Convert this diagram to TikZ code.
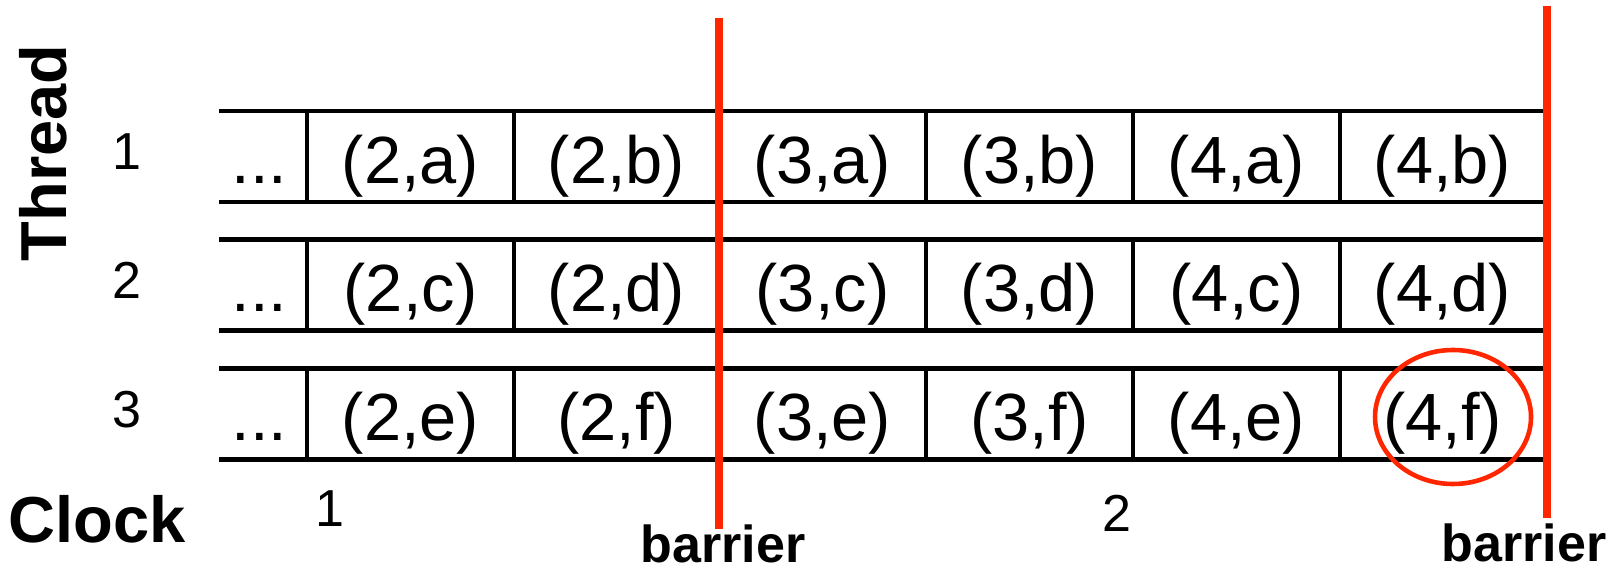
\documentclass[tikz,border=0pt]{standalone}
\usepackage{fontspec}
\usepackage{xcolor}
\setmainfont{Liberation Sans}
\definecolor{barrierred}{RGB}{255,38,0}

\begin{document}
\begin{tikzpicture}[
    every path/.style={line width=1.4pt},
    cell/.style={anchor=base, font=\fontsize{19}{21}\selectfont},
    num/.style={anchor=base, font=\fontsize{14.8}{16}\selectfont},
    title/.style={font=\fontsize{18.5}{20}\selectfont\bfseries},
    barrierline/.style={draw=barrierred, line width=2.3pt},
    ]
    \useasboundingbox (0,0) rectangle (16.23,5.69);

    % thread 1
    \draw (2.19,4.58) -- (15.45,4.58) (2.19,3.67) -- (15.45,3.67);
    \draw (3.07,4.58) -- (3.07,3.67) (5.14,4.58) -- (5.14,3.67) (7.19,4.58) -- (7.19,3.67)
          (9.26,4.58) -- (9.26,3.67) (11.33,4.58) -- (11.33,3.67) (13.40,4.58) -- (13.40,3.67);
    % thread 2
    \draw (2.19,3.293) -- (15.45,3.293) (2.19,2.383) -- (15.45,2.383);
    \draw (3.07,3.293) -- (3.07,2.383) (5.14,3.293) -- (5.14,2.383) (7.19,3.293) -- (7.19,2.383)
          (9.26,3.293) -- (9.26,2.383) (11.33,3.293) -- (11.33,2.383) (13.40,3.293) -- (13.40,2.383);
    % thread 3
    \draw (2.19,2.006) -- (15.45,2.006) (2.19,1.096) -- (15.45,1.096);
    \draw (3.07,2.006) -- (3.07,1.096) (5.14,2.006) -- (5.14,1.096) (7.19,2.006) -- (7.19,1.096)
          (9.26,2.006) -- (9.26,1.096) (11.33,2.006) -- (11.33,1.096) (13.40,2.006) -- (13.40,1.096);

    \node[cell] (d1) at (2.595,3.857) {...};
    \node[cell] (t2a) at (4.105,3.857) {(2,a)};
    \node[cell] (t2b) at (6.165,3.857) {(2,b)};
    \node[cell] (t3a) at (8.225,3.857) {(3,a)};
    \node[cell] (t3b) at (10.295,3.857) {(3,b)};
    \node[cell] (t4a) at (12.365,3.857) {(4,a)};
    \node[cell] (t4b) at (14.425,3.857) {(4,b)};

    \node[cell] (d2) at (2.595,2.570) {...};
    \node[cell] (t2c) at (4.105,2.570) {(2,c)};
    \node[cell] (t2d) at (6.165,2.570) {(2,d)};
    \node[cell] (t3c) at (8.225,2.570) {(3,c)};
    \node[cell] (t3d) at (10.295,2.570) {(3,d)};
    \node[cell] (t4c) at (12.365,2.570) {(4,c)};
    \node[cell] (t4d) at (14.425,2.570) {(4,d)};

    \node[cell] (d3) at (2.595,1.283) {...};
    \node[cell] (t2e) at (4.105,1.283) {(2,e)};
    \node[cell] (t2f) at (6.165,1.283) {(2,f)};
    \node[cell] (t3e) at (8.225,1.283) {(3,e)};
    \node[cell] (t3f) at (10.295,1.283) {(3,f)};
    \node[cell] (t4e) at (12.365,1.283) {(4,e)};
    \node[cell] (t4f) at (14.425,1.283) {(4,f)};

    % axis labels
    \node[title, rotate=90] (thread) at (0.435,4.16) {Thread};
    \node[num] (n1) at (1.27,3.99) {1};
    \node[num] (n2) at (1.27,2.703) {2};
    \node[num] (n3) at (1.27,1.416) {3};

    \node[title, anchor=base] (clock) at (0.97,0.26) {Clock};
    \node[num] (c1) at (3.30,0.42) {1};
    \node[num] (c2) at (11.17,0.37) {2};

    % barriers
    \draw[barrierline] (7.19,5.513) -- (7.19,0.40);
    \draw[barrierline] (15.47,5.633) -- (15.47,0.513);
    \node[num, font=\fontsize{14.8}{16}\selectfont\bfseries] (b1) at (7.23,0.06) {barrier};
    \node[num, font=\fontsize{14.8}{16}\selectfont\bfseries] (b2) at (15.24,0.075) {barrier};

    \draw[barrierred, line width=1.3pt] (t4f.base) ++(0.105,0.237) ellipse (0.78 and 0.67);
\end{tikzpicture}
\end{document}
